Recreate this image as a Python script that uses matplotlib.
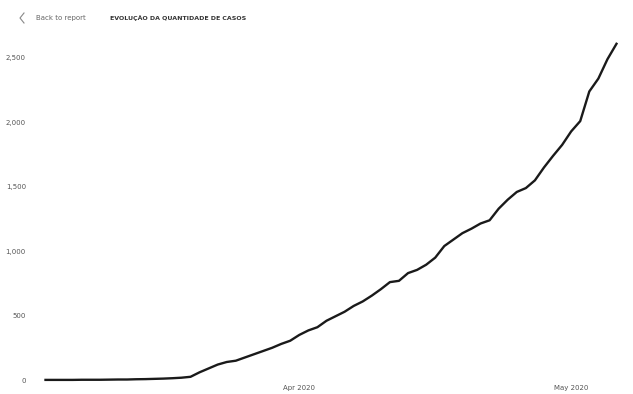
import pandas as pd
import matplotlib
matplotlib.use('Agg')
import matplotlib.pyplot as plt
import matplotlib.dates as mdates
from matplotlib.lines import Line2D
from matplotlib.ticker import FuncFormatter

# casos acumulados por dia
casos = [1, 1, 1, 1, 2, 2, 2, 3, 4, 4, 6, 7, 9, 11, 14, 18, 25, 60, 90, 120,
         140, 150, 175, 200, 225, 250, 280, 305, 350, 385, 410, 460, 495, 530,
         575, 610, 655, 705, 760, 770, 830, 855, 895, 950, 1040, 1090, 1140,
         1175, 1215, 1240, 1330, 1400, 1460, 1490, 1550, 1650, 1740, 1825,
         1930, 2010, 2240, 2340, 2490, 2610]
datas = pd.date_range('2020-03-04', periods=len(casos), freq='D')
yticks = [0, 500, 1000, 1500, 2000, 2500]
xticks = pd.to_datetime(['2020-04-01', '2020-05-01'])

W, H = 633, 394
fig = plt.figure(figsize=(W / 100, H / 100), dpi=100)
fig.patch.set_facecolor('white')

# axes posicionado em pixels
y0_px, ytop_px = 382.6, 32.2
ax = fig.add_axes([44 / W, (H - y0_px) / H, (618 - 44) / W, (y0_px - ytop_px) / H])
ax.plot(datas, casos, color='#1a1a1a', linewidth=1.7, solid_joinstyle='round')
ax.set_xlim(datas[0] - pd.Timedelta(hours=4), datas[-1] + pd.Timedelta(hours=4))
ax.set_ylim(-20, 2700)

for s in ax.spines.values():
    s.set_visible(False)
ax.set_yticks(yticks)
ax.yaxis.set_major_formatter(FuncFormatter(lambda v, p: f'{int(v):,}'))
ax.set_xticks(xticks)
ax.xaxis.set_major_formatter(mdates.DateFormatter('%b %Y'))
ax.tick_params(axis='both', length=0, labelsize=5, labelcolor='#555555')
ax.tick_params(axis='y', pad=13)
ax.tick_params(axis='x', pad=2)

# cabecalho
fig.add_artist(Line2D([24 / W, 20 / W, 24 / W], [(H - 13) / H, (H - 18) / H, (H - 23) / H],
                      color='#888888', linewidth=0.8))
fig.text(36 / W, (H - 18) / H, 'Back to report', fontsize=5, color='#666666', va='center')
fig.text(110 / W, (H - 18) / H, 'EVOLUÇÃO DA QUANTIDADE DE CASOS', fontsize=4.5,
         fontweight='bold', color='#333333', va='center')

fig.savefig('out.png', dpi=100)
